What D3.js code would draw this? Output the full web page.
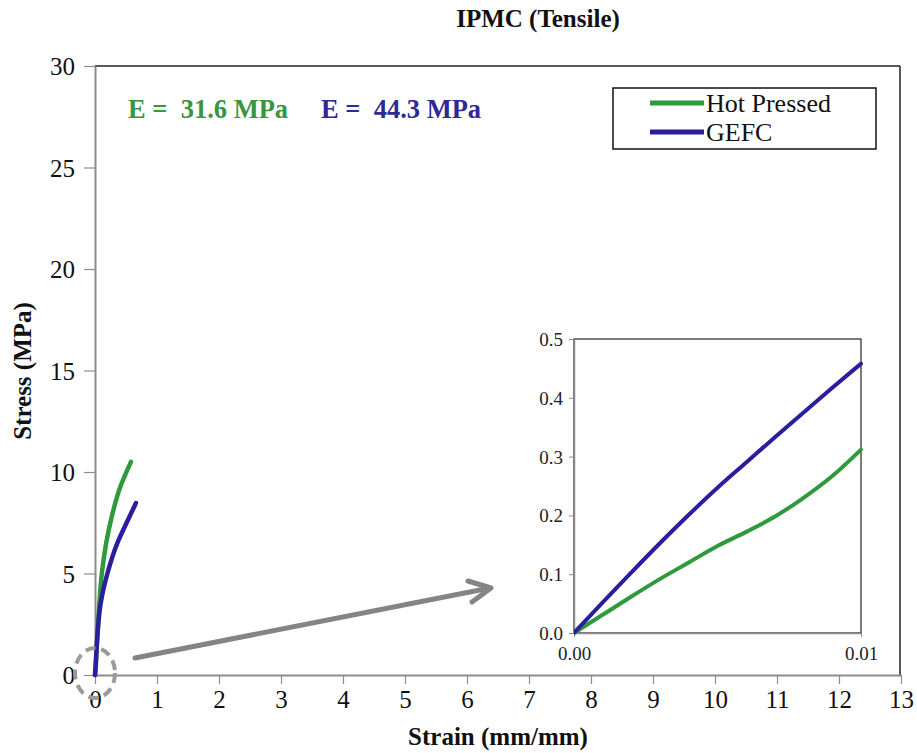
<!DOCTYPE html>
<html>
<head>
<meta charset="utf-8">
<script src="https://cdn.jsdelivr.net/npm/d3@7"></script>
<style>
  html, body { margin: 0; padding: 0; background: #fff; }
  svg { display: block; }
</style>
</head>
<body>
<svg id="chart" width="917" height="753"></svg>
<script>
// ---- Data ----
const titleText = "IPMC (Tensile)";
const xTitle = "Strain (mm/mm)";
const yTitle = "Stress (MPa)";
const seriesNames = ["Hot Pressed", "GEFC"];
const modulusLabels = ["E =  31.6 MPa", "E =  44.3 MPa"];

const xTicks = [0,1,2,3,4,5,6,7,8,9,10,11,12,13];
const yTicks = [0,5,10,15,20,25,30];

const strainHP   = [0, 0.01, 0.02, 0.04, 0.07, 0.11, 0.18, 0.27, 0.40, 0.58];
const stressHP   = [0, 0.31, 0.9, 2.0, 3.5, 5.0, 6.5, 7.8, 9.2, 10.5];
const strainGEFC = [0, 0.01, 0.02, 0.04, 0.09, 0.20, 0.36, 0.51, 0.66];
const stressGEFC = [0, 0.46, 1.0, 2.0, 3.5, 5.0, 6.5, 7.5, 8.47];

const insetStrain = [0, 0.001, 0.002, 0.003, 0.004, 0.005, 0.006, 0.007, 0.008, 0.009, 0.01];
const insetHP     = [0, 0.031, 0.062, 0.092, 0.12, 0.148, 0.172, 0.198, 0.23, 0.267, 0.312];
const insetGEFC   = [0, 0.052, 0.103, 0.153, 0.201, 0.247, 0.29, 0.333, 0.375, 0.417, 0.458];
const insetXTicks = [0, 0.01];
const insetYTicks = [0, 0.1, 0.2, 0.3, 0.4, 0.5];

const colors = ["#2e9a3c", "#2a1e9e"];
const textColors = ["#3a9440", "#2e2a94"];

// ---- Setup ----
const svg = d3.select("#chart");
const axisGray = "#8c8c8c";

const x = d3.scaleLinear().domain([0, 13]).range([95, 901]);
const y = d3.scaleLinear().domain([0, 30]).range([675, 66]);

// Frame top and right
svg.append("line").attr("x1", 95).attr("x2", 900).attr("y1", 66).attr("y2", 66)
  .attr("stroke", "#222").attr("stroke-width", 1.5);
svg.append("line").attr("x1", 900).attr("x2", 900).attr("y1", 66).attr("y2", 675)
  .attr("stroke", "#222").attr("stroke-width", 1.5);

// Axes
const xAxis = d3.axisBottom(x).tickValues(xTicks).tickSize(9).tickSizeOuter(0).tickPadding(6);
const gx = svg.append("g").attr("transform", `translate(0,${y(0)})`).call(xAxis);
const yAxis = d3.axisLeft(y).tickValues(yTicks).tickSize(11).tickSizeOuter(0).tickPadding(9);
const gy = svg.append("g").attr("transform", `translate(${x(0)},0)`).call(yAxis);
[gx, gy].forEach(g => {
  g.select(".domain").attr("stroke", axisGray).attr("stroke-width", 2);
  g.selectAll(".tick line").attr("stroke", axisGray).attr("stroke-width", 1.2);
  g.selectAll(".tick text").attr("font-size", 25).attr("fill", "#111");
});
gy.selectAll(".tick text").attr("dy", "0.34em");

// Title
svg.append("text").attr("x", 538).attr("y", 27).attr("text-anchor", "middle")
  .attr("font-size", 25).attr("font-weight", "bold").attr("fill", "#111").text(titleText);

// Axis titles
svg.append("text").attr("x", 498).attr("y", 745).attr("text-anchor", "middle")
  .attr("font-size", 25).attr("font-weight", "bold").attr("fill", "#111").text(xTitle);
svg.append("text").attr("transform", "translate(31,371) rotate(-90)").attr("text-anchor", "middle")
  .attr("font-size", 25).attr("font-weight", "bold").attr("fill", "#111").text(yTitle);

// Modulus labels
const modX = [128, 321];
modulusLabels.forEach((t, i) => {
  svg.append("text").attr("x", modX[i]).attr("y", 118)
    .style("white-space", "pre")
    .attr("font-size", 26.5).attr("font-weight", "bold").attr("fill", textColors[i]).text(t);
});

// Legend
svg.append("rect").attr("x", 613).attr("y", 88).attr("width", 263).attr("height", 61)
  .attr("fill", "#fff").attr("stroke", "#111").attr("stroke-width", 1.5);
const legY = [103, 132];
seriesNames.forEach((n, i) => {
  svg.append("line").attr("x1", 650).attr("x2", 704).attr("y1", legY[i]).attr("y2", legY[i])
    .attr("stroke", colors[i]).attr("stroke-width", 5);
  svg.append("text").attr("x", 706).attr("y", legY[i] + 9).attr("font-size", 26)
    .attr("fill", "#111").text(n);
});

// Main curves (stress increases monotonically, so interpolate along y)
const line = d3.line().x(d => x(d[0])).y(d => y(d[1])).curve(d3.curveMonotoneY);
const mainSeries = [d3.zip(strainHP, stressHP), d3.zip(strainGEFC, stressGEFC)];
mainSeries.forEach((s, i) => {
  svg.append("path").attr("d", line(s)).attr("fill", "none")
    .attr("stroke", colors[i]).attr("stroke-width", 4.5).attr("stroke-linecap", "round");
});

// Dashed ellipse around origin
svg.append("ellipse").attr("cx", x(0)).attr("cy", 673).attr("rx", 20).attr("ry", 25)
  .attr("fill", "none").attr("stroke", "#9a9a9a").attr("stroke-width", 4)
  .attr("stroke-dasharray", "10,6");

// Arrow
svg.append("line").attr("x1", 135).attr("y1", 658).attr("x2", 490).attr("y2", 588)
  .attr("stroke", "#848484").attr("stroke-width", 5).attr("stroke-linecap", "round");
svg.append("polyline").attr("points", "468,581 491,588 472,602")
  .attr("fill", "none").attr("stroke", "#848484").attr("stroke-width", 5)
  .attr("stroke-linecap", "round").attr("stroke-linejoin", "round");

// ---- Inset ----
const ix = d3.scaleLinear().domain([0, 0.01]).range([574, 861]);
const iy = d3.scaleLinear().domain([0, 0.5]).range([633, 339]);
svg.append("rect").attr("x", 574).attr("y", 339).attr("width", 287).attr("height", 294)
  .attr("fill", "#fff").attr("stroke", "#222").attr("stroke-width", 1.2);

const ixAxis = d3.axisBottom(ix).tickValues(insetXTicks).tickFormat(d3.format(".2f"))
  .tickSize(4).tickSizeOuter(0).tickPadding(10);
const igx = svg.append("g").attr("transform", `translate(0,${iy(0)})`).call(ixAxis);
const iyAxis = d3.axisLeft(iy).tickValues(insetYTicks).tickFormat(d3.format(".1f"))
  .tickSize(5).tickSizeOuter(0).tickPadding(6);
const igy = svg.append("g").attr("transform", `translate(${ix(0)},0)`).call(iyAxis);
[igx, igy].forEach(g => {
  g.select(".domain").attr("stroke", axisGray).attr("stroke-width", 1.5);
  g.selectAll(".tick line").attr("stroke", axisGray);
  g.selectAll(".tick text").attr("font-size", 19).attr("fill", "#222");
});
igy.selectAll(".tick text").attr("dy", "0.34em");

svg.append("clipPath").attr("id", "insetClip").append("rect")
  .attr("x", 574).attr("y", 330).attr("width", 292).attr("height", 306);
const iline = d3.line().x(d => ix(d[0])).y(d => iy(d[1])).curve(d3.curveMonotoneX);
[d3.zip(insetStrain, insetHP), d3.zip(insetStrain, insetGEFC)].forEach((s, i) => {
  svg.append("path").attr("d", iline(s)).attr("fill", "none").attr("clip-path", "url(#insetClip)")
    .attr("stroke", colors[i]).attr("stroke-width", 4).attr("stroke-linecap", "round");
});

// Serif font on every text element
svg.selectAll("g").attr("font-family", null);
svg.selectAll("text").style("font-family", "Liberation Serif");
</script>
</body>
</html>
